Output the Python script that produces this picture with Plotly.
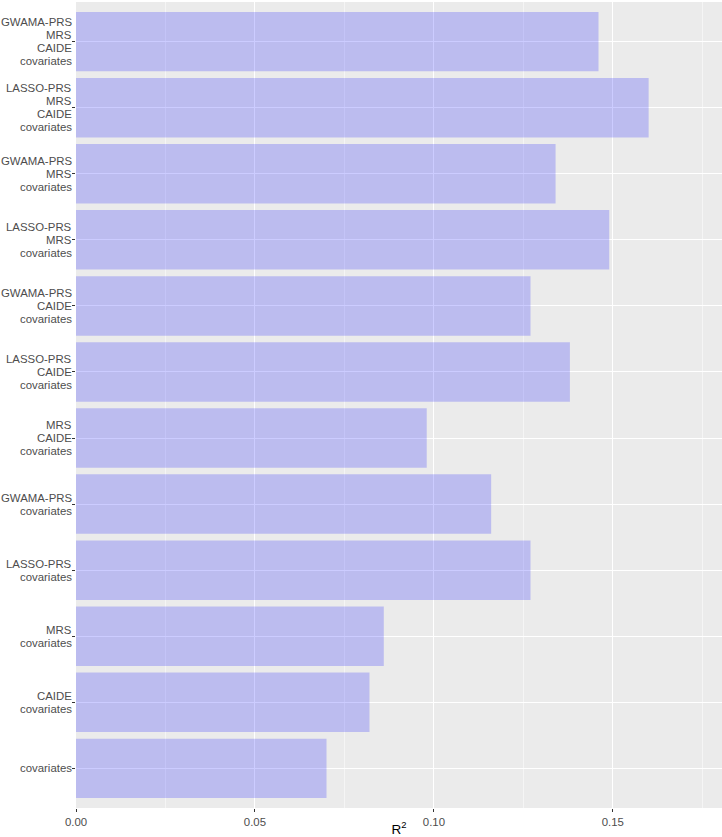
import plotly.graph_objects as go

categories = [
    "GWAMA-PRS\nMRS\nCAIDE\ncovariates",
    "LASSO-PRS\nMRS\nCAIDE\ncovariates",
    "GWAMA-PRS\nMRS\ncovariates",
    "LASSO-PRS\nMRS\ncovariates",
    "GWAMA-PRS\nCAIDE\ncovariates",
    "LASSO-PRS\nCAIDE\ncovariates",
    "MRS\nCAIDE\ncovariates",
    "GWAMA-PRS\ncovariates",
    "LASSO-PRS\ncovariates",
    "MRS\ncovariates",
    "CAIDE\ncovariates",
    "covariates",
]
r2_values = [0.146, 0.160, 0.134, 0.149, 0.127, 0.138, 0.098, 0.116, 0.127, 0.086, 0.082, 0.070]
x_ticks = [0.0, 0.05, 0.10, 0.15]
x_ticklabels = ["0.00", "0.05", "0.10", "0.15"]

FONT = "Liberation Sans, Arial, sans-serif"
TXT = 11.4

fig = go.Figure(
    go.Bar(
        x=r2_values,
        y=categories,
        orientation="h",
        width=0.9,
        marker=dict(color="rgba(0,0,255,0.2)", line=dict(width=0)),
        hoverinfo="x",
    )
)

# y-axis labels drawn line by line (ggplot-like tight line spacing)
LINE_H = 13
annotations = []
for cat in categories:
    lines = cat.split("\n")
    k = len(lines)
    for i, ln in enumerate(lines):
        annotations.append(dict(
            x=0, xref="paper", xanchor="right", xshift=-2,
            y=cat, yref="y", yanchor="middle",
            yshift=((k - 1) / 2 - i) * LINE_H,
            text=ln, showarrow=False,
            font=dict(size=TXT, color="#4D4D4D", family=FONT),
        ))

n = len(categories)
fig.update_layout(
    width=722,
    height=837,
    margin=dict(l=76, r=0, t=2, b=29, autoexpand=False),
    paper_bgcolor="white",
    plot_bgcolor="#EBEBEB",
    font=dict(family=FONT, color="#4D4D4D", size=TXT),
    showlegend=False,
    annotations=annotations,
    xaxis=dict(
        range=[0, 0.1805],
        tickvals=x_ticks,
        ticktext=x_ticklabels,
        showgrid=True,
        gridcolor="white",
        gridwidth=1,
        minor=dict(dtick=0.025, tick0=0, showgrid=True, gridcolor="#F5F5F5", gridwidth=0.6, ticks=""),
        zeroline=False,
        ticks="outside",
        ticklen=3,
        tickcolor="#333333",
        tickwidth=1,
        tickfont=dict(size=TXT, color="#4D4D4D"),
        title=dict(text="R<sup>2</sup>", font=dict(size=13.5, color="black"), standoff=2),
        showline=False,
        automargin=False,
        fixedrange=True,
    ),
    yaxis=dict(
        categoryorder="array",
        categoryarray=categories,
        range=[n - 0.4, -0.6],
        showgrid=True,
        gridcolor="white",
        gridwidth=1,
        zeroline=False,
        ticks="outside",
        ticklen=3,
        tickcolor="#333333",
        tickwidth=1,
        showticklabels=False,
        showline=False,
        automargin=False,
        fixedrange=True,
    ),
)

fig.write_html("out.html")
